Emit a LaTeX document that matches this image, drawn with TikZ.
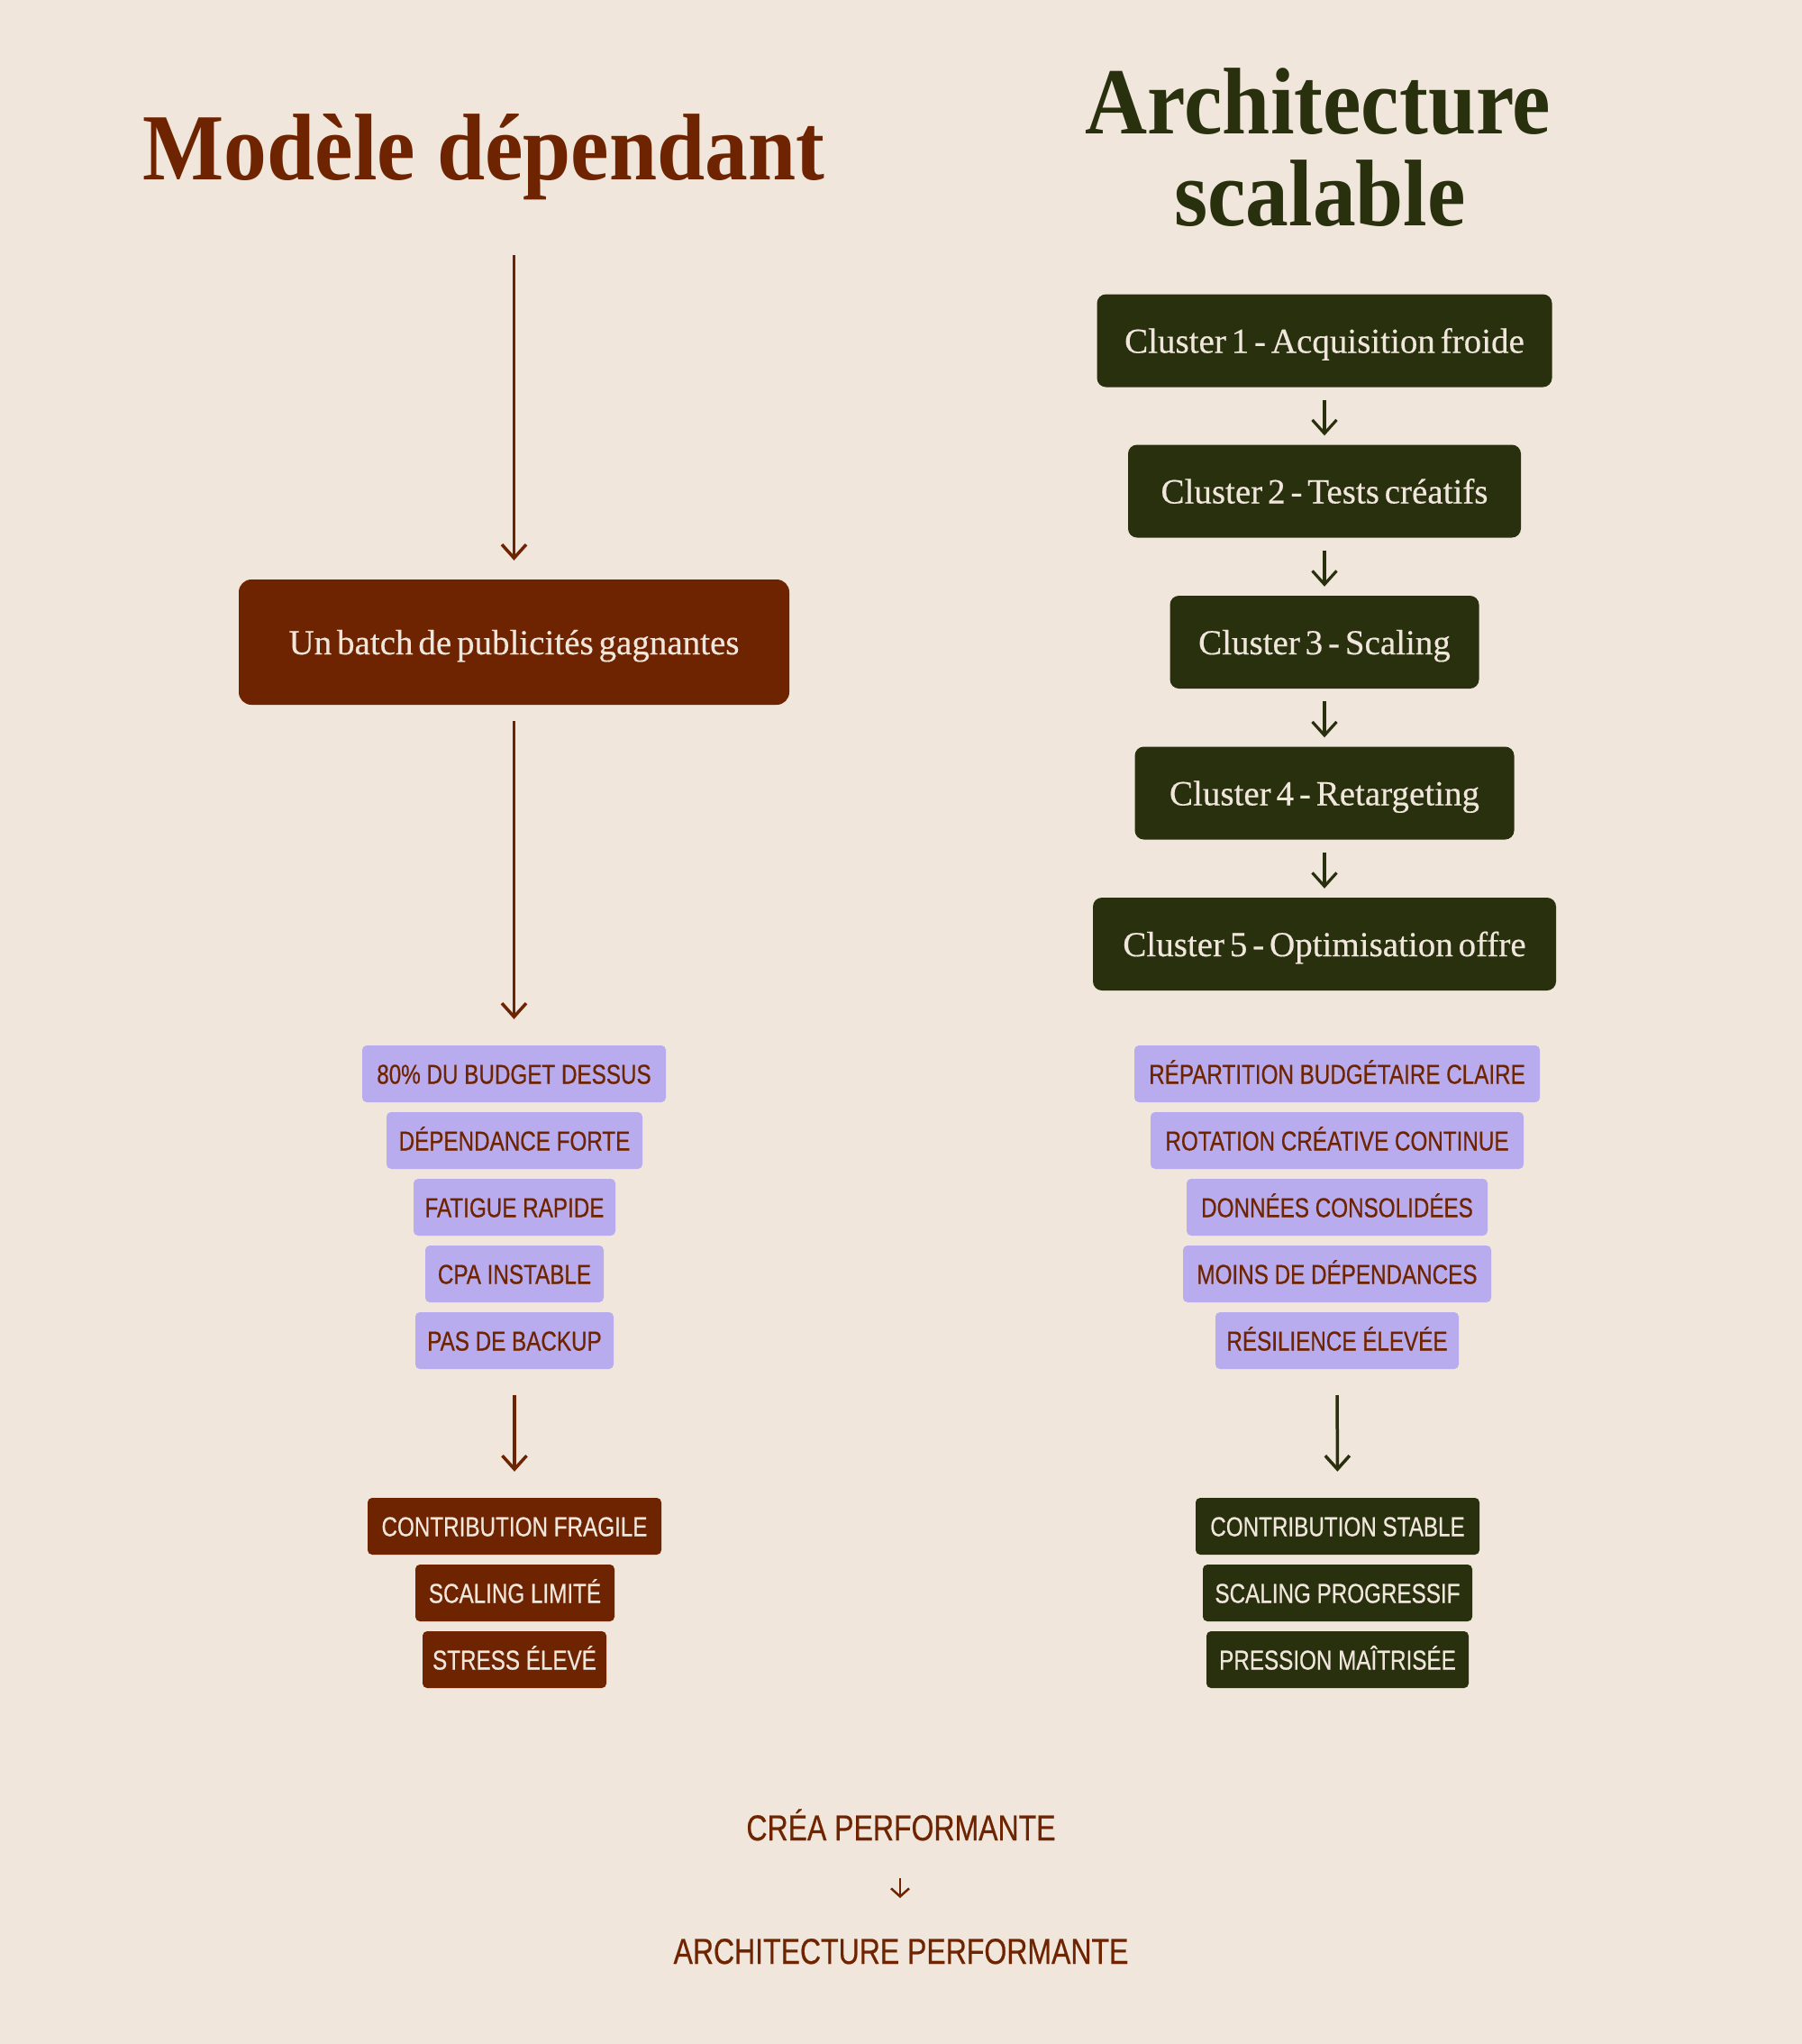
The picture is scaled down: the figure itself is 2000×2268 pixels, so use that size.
\documentclass[tikz,border=0pt]{standalone}
\usepackage{fontspec}
\setmainfont{Liberation Serif}[WordSpace=0.6, FakeBold=0.4]
\newfontfamily\titlefont{Liberation Serif}[FakeStretch=0.91]
\newfontfamily\tagfont{Liberation Sans}[FakeStretch=0.80, FakeBold=0.5]
\usetikzlibrary{arrows.meta}
\definecolor{bgc}{HTML}{F0E6DB}
\definecolor{rust}{HTML}{6E2400}
\definecolor{olive}{HTML}{29300E}
\definecolor{lav}{HTML}{B8ACEE}
\definecolor{cream}{HTML}{F0E6DB}
\tikzset{
  titleL/.style={anchor=base, inner sep=0, text=rust, font=\titlefont\bfseries\fontsize{105}{110}\selectfont},
  titleR/.style={anchor=base, inner sep=0, text=olive, font=\titlefont\bfseries\fontsize{105}{110}\selectfont},
  serifbox/.style={inner sep=0, text height=27pt, text depth=0pt, font=\fontsize{39}{44}\selectfont},
  batchbox/.style={serifbox, fill=rust, text=cream, rounded corners=14, minimum width=611, minimum height=139},
  clusterbox/.style={serifbox, fill=olive, text=cream, rounded corners=10, minimum height=103},
  smallbox/.style={rounded corners=5, minimum height=63, inner sep=0, text height=22pt, text depth=0pt, font=\tagfont\fontsize{30.3}{34}\selectfont},
  tagbox/.style={smallbox, fill=lav, text=rust},
  outL/.style={smallbox, fill=rust, text=cream},
  outR/.style={smallbox, fill=olive, text=cream},
  foot/.style={anchor=base, inner sep=0, text=rust, font=\tagfont\fontsize{40}{44}\selectfont},
  arr/.style={line width=3.5pt, -{Straight Barb[length=15pt,width=27pt]}},
  carr/.style={line width=3.2pt, color=olive, -{Straight Barb[length=15pt,width=27pt]}, shorten <=14pt, shorten >=10pt},
  smallarr/.style={line width=2.5pt, color=rust, -{Straight Barb[length=9pt,width=20pt]}}
}
\begin{document}
\begin{tikzpicture}[x=1pt,y=-1pt]
\fill[bgc] (0,0) rectangle (2000,2268);
\useasboundingbox (0,0) rectangle (2000,2268);

% titles
\node[titleL] (tL) at (537,199) {Modèle dépendant};
\node[titleR] (tR1) at (1463,148) {Architecture};
\node[titleR] (tR2) at (1465,250) {scalable};

% left column
\coordinate (aStart) at (570.5,283);
\node[batchbox] (batch) at (570.5,712.5) {Un batch de publicités gagnantes};

\node[tagbox, minimum width=337] (L1) at (570.5,1191.5) {80\% DU BUDGET DESSUS};
\node[tagbox, minimum width=284] (L2) at (571,1265.5) {DÉPENDANCE FORTE};
\node[tagbox, minimum width=224] (L3) at (571,1339.5) {FATIGUE RAPIDE};
\node[tagbox, minimum width=198] (L4) at (571,1413.5) {CPA INSTABLE};
\node[tagbox, minimum width=220] (L5) at (571,1487.5) {PAS DE BACKUP};

\node[outL, minimum width=326] (OL1) at (571,1693.5) {CONTRIBUTION FRAGILE};
\node[outL, minimum width=221] (OL2) at (571.5,1767.5) {SCALING LIMITÉ};
\node[outL, minimum width=204] (OL3) at (571,1841.5) {STRESS ÉLEVÉ};

\draw[arr, rust, shorten >=21pt] (aStart) -- (batch.north);
\draw[arr, rust, shorten <=18pt, shorten >=29pt] (batch.south) -- (L1.north);
\draw[arr, rust, shorten <=29pt, shorten >=29pt] (L5.south) -- (OL1.north);

% right column
\node[clusterbox, minimum width=505] (C1) at (1470,378) {Cluster 1 - Acquisition froide};
\node[clusterbox, minimum width=436] (C2) at (1470,545) {Cluster 2 - Tests créatifs};
\node[clusterbox, minimum width=343] (C3) at (1470,712.5) {Cluster 3 - Scaling};
\node[clusterbox, minimum width=421] (C4) at (1470,880) {Cluster 4 - Retargeting};
\node[clusterbox, minimum width=514] (C5) at (1470,1047.5) {Cluster 5 - Optimisation offre};

\draw[carr] (C1.south) -- (C2.north);
\draw[carr] (C2.south) -- (C3.north);
\draw[carr] (C3.south) -- (C4.north);
\draw[carr] (C4.south) -- (C5.north);

\node[tagbox, minimum width=450] (R1) at (1484,1191.5) {RÉPARTITION BUDGÉTAIRE CLAIRE};
\node[tagbox, minimum width=414] (R2) at (1484,1265.5) {ROTATION CRÉATIVE CONTINUE};
\node[tagbox, minimum width=334] (R3) at (1484,1339.5) {DONNÉES CONSOLIDÉES};
\node[tagbox, minimum width=342] (R4) at (1484,1413.5) {MOINS DE DÉPENDANCES};
\node[tagbox, minimum width=270] (R5) at (1484,1487.5) {RÉSILIENCE ÉLEVÉE};

\node[outR, minimum width=315] (OR1) at (1484.5,1693.5) {CONTRIBUTION STABLE};
\node[outR, minimum width=299] (OR2) at (1484.5,1767.5) {SCALING PROGRESSIF};
\node[outR, minimum width=291] (OR3) at (1484.5,1841.5) {PRESSION MAÎTRISÉE};

\draw[arr, olive, shorten <=29pt, shorten >=29pt] (R5.south) -- (OR1.north);

% footer
\node[foot] (f1) at (1000,2042) {CRÉA PERFORMANTE};
\node[foot] (f2) at (1000,2179) {ARCHITECTURE PERFORMANTE};
\coordinate (m1) at (999,2084);
\coordinate (m2) at (999,2106);
\draw[smallarr] (m1) -- (m2);
\end{tikzpicture}
\end{document}
